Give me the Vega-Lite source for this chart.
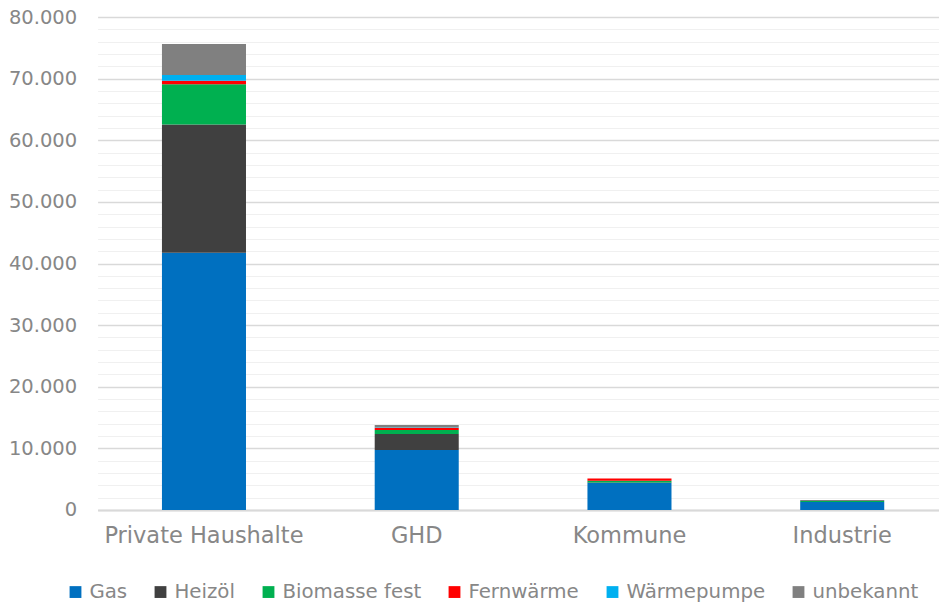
{
  "$schema": "https://vega.github.io/schema/vega-lite/v6.json",
  "width": 851,
  "height": 493,
  "autosize": {"type": "none"},
  "padding": {"left": 97.6, "top": 17, "right": 0, "bottom": 92},
  "background": "#ffffff",
  "data": {
    "values": [
      {"Sektor": "Private Haushalte", "Energieträger": "Gas", "Rang": 1, "Wert": 41750},
      {"Sektor": "Private Haushalte", "Energieträger": "Heizöl", "Rang": 2, "Wert": 20810},
      {"Sektor": "Private Haushalte", "Energieträger": "Biomasse fest", "Rang": 3, "Wert": 6520},
      {"Sektor": "Private Haushalte", "Energieträger": "Fernwärme", "Rang": 4, "Wert": 580},
      {"Sektor": "Private Haushalte", "Energieträger": "Wärmepumpe", "Rang": 5, "Wert": 920},
      {"Sektor": "Private Haushalte", "Energieträger": "unbekannt", "Rang": 6, "Wert": 5030},
      {"Sektor": "GHD", "Energieträger": "Gas", "Rang": 1, "Wert": 9740},
      {"Sektor": "GHD", "Energieträger": "Heizöl", "Rang": 2, "Wert": 2600},
      {"Sektor": "GHD", "Energieträger": "Biomasse fest", "Rang": 3, "Wert": 650},
      {"Sektor": "GHD", "Energieträger": "Fernwärme", "Rang": 4, "Wert": 330},
      {"Sektor": "GHD", "Energieträger": "Wärmepumpe", "Rang": 5, "Wert": 50},
      {"Sektor": "GHD", "Energieträger": "unbekannt", "Rang": 6, "Wert": 430},
      {"Sektor": "Kommune", "Energieträger": "Gas", "Rang": 1, "Wert": 4380},
      {"Sektor": "Kommune", "Energieträger": "Heizöl", "Rang": 2, "Wert": 80},
      {"Sektor": "Kommune", "Energieträger": "Biomasse fest", "Rang": 3, "Wert": 300},
      {"Sektor": "Kommune", "Energieträger": "Fernwärme", "Rang": 4, "Wert": 340},
      {"Sektor": "Kommune", "Energieträger": "Wärmepumpe", "Rang": 5, "Wert": 0},
      {"Sektor": "Kommune", "Energieträger": "unbekannt", "Rang": 6, "Wert": 0},
      {"Sektor": "Industrie", "Energieträger": "Gas", "Rang": 1, "Wert": 1300},
      {"Sektor": "Industrie", "Energieträger": "Heizöl", "Rang": 2, "Wert": 0},
      {"Sektor": "Industrie", "Energieträger": "Biomasse fest", "Rang": 3, "Wert": 150},
      {"Sektor": "Industrie", "Energieträger": "Fernwärme", "Rang": 4, "Wert": 0},
      {"Sektor": "Industrie", "Energieträger": "Wärmepumpe", "Rang": 5, "Wert": 0},
      {"Sektor": "Industrie", "Energieträger": "unbekannt", "Rang": 6, "Wert": 170}
    ]
  },
  "mark": {"type": "bar"},
  "encoding": {
    "x": {
      "field": "Sektor",
      "type": "nominal",
      "sort": ["Private Haushalte", "GHD", "Kommune", "Industrie"],
      "scale": {"paddingInner": 0.605, "paddingOuter": 0.3025},
      "axis": {
        "title": null,
        "labelAngle": 0,
        "labelFontSize": 22.5,
        "labelPadding": 15,
        "labelLimit": 0,
        "ticks": false,
        "domainColor": "#d9d9d9",
        "domainWidth": 2
      }
    },
    "y": {
      "field": "Wert",
      "type": "quantitative",
      "stack": "zero",
      "scale": {"domain": [0, 80000], "nice": false},
      "axis": {
        "title": null,
        "values": [0, 2000, 4000, 6000, 8000, 10000, 12000, 14000, 16000, 18000, 20000, 22000, 24000, 26000, 28000, 30000, 32000, 34000, 36000, 38000, 40000, 42000, 44000, 46000, 48000, 50000, 52000, 54000, 56000, 58000, 60000, 62000, 64000, 66000, 68000, 70000, 72000, 74000, 76000, 78000, 80000],
        "labelExpr": "datum.value % 10000 === 0 ? (datum.value === 0 ? '0' : replace(format(datum.value, ','), ',', '.')) : ''",
        "labelFontSize": 19.5,
        "labelPadding": 21,
        "ticks": false,
        "domain": false,
        "grid": true,
        "gridColor": {"condition": {"test": "datum.value % 10000 === 0", "value": "#d9d9d9"}, "value": "#f0f0f0"},
        "gridWidth": {"condition": {"test": "datum.value % 10000 === 0", "value": 1.6}, "value": 1.2}
      }
    },
    "order": {"field": "Rang", "type": "quantitative", "sort": "ascending"},
    "color": {
      "field": "Energieträger",
      "type": "nominal",
      "scale": {
        "domain": ["Gas", "Heizöl", "Biomasse fest", "Fernwärme", "Wärmepumpe", "unbekannt"],
        "range": ["#0070c0", "#404040", "#00b050", "#ff0000", "#00b0f0", "#808080"]
      },
      "legend": {
        "title": null,
        "orient": "none",
        "direction": "horizontal",
        "columns": 6,
        "legendX": -32,
        "legendY": 565,
        "symbolType": "square",
        "symbolSize": 140,
        "symbolStrokeWidth": 0,
        "symbolOpacity": 1,
        "labelFontSize": 19.8,
        "labelOffset": 4,
        "columnPadding": 23,
        "padding": 0
      }
    }
  },
  "config": {
    "font": "DejaVu Sans",
    "view": {"stroke": null},
    "axis": {"labelColor": "#878787", "labelFont": "DejaVu Sans"},
    "legend": {"labelColor": "#878787", "labelFont": "DejaVu Sans"}
  }
}
